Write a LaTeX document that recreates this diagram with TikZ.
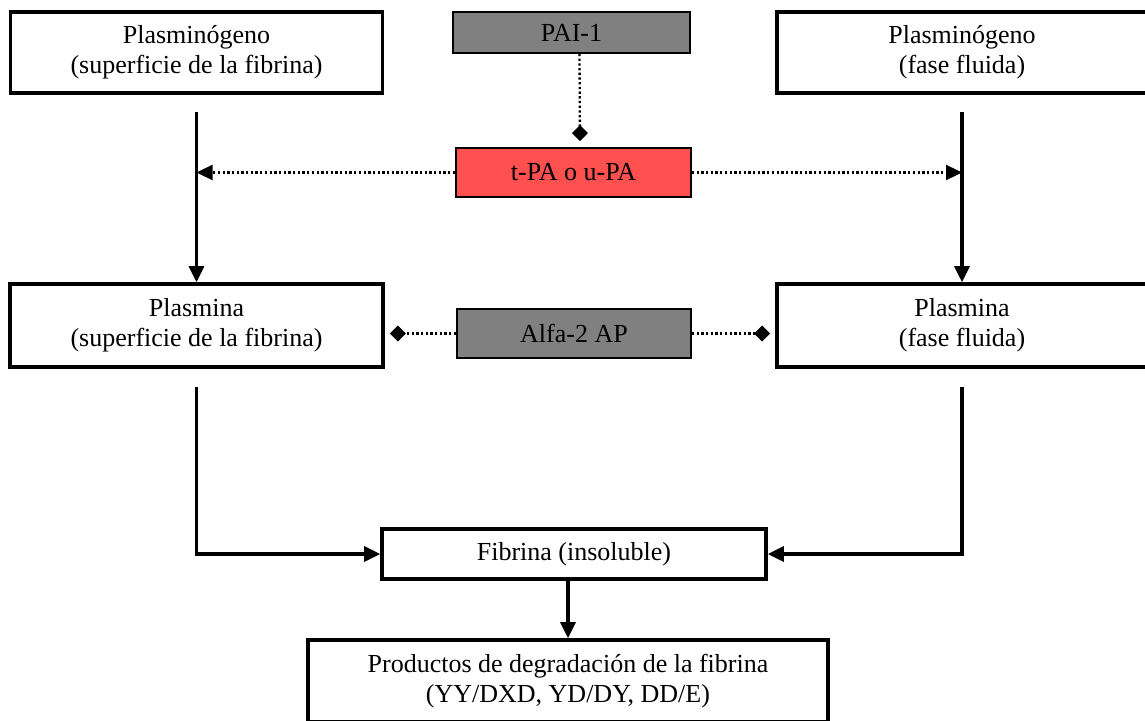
\documentclass[tikz,border=0pt]{standalone}
\usepackage{fontspec}
\setmainfont{Liberation Serif}
\usetikzlibrary{arrows.meta}
\definecolor{boxgray}{HTML}{808080}
\definecolor{boxred}{HTML}{FF5050}

\begin{document}
\begin{tikzpicture}[x=1pt, y=-1pt,
    font=\fontsize{26}{30}\selectfont,
    box/.style={draw, line width=3.6pt, align=center, inner sep=0pt},
    agent/.style={draw, line width=1.8pt, align=center, inner sep=0pt},
    flow/.style={line width=3.2pt, -{Triangle[length=16pt, width=15pt]}},
    act/.style={line width=2.3pt, dash pattern=on 2.3pt off 2.4pt, -{Triangle[length=16pt, width=15pt]}},
    inhib/.style={line width=2.3pt, dash pattern=on 2.3pt off 2.4pt, -{Diamond[length=16pt, width=16pt]}}]
    \useasboundingbox (0, 0) rectangle (1145, 720);
    \clip (0, 0) rectangle (1145, 720);

    % Top row
    \node[box, minimum width=372pt, minimum height=81pt] (plgS) at (196.5, 52.5) {Plasminógeno\\(superficie de la fibrina)};
    \node[agent, fill=boxgray, minimum width=237pt, minimum height=41pt] (pai) at (571.5, 32.5) {PAI-1};
    \node[box, minimum width=370pt, minimum height=81pt] (plgF) at (962, 52.5) {Plasminógeno\\(fase fluida)};

    % Activators
    \node[agent, fill=boxred, minimum width=235pt, minimum height=49pt] (tpa) at (573.5, 172.5) {t-PA o u-PA};

    % Middle row
    \node[box, minimum width=373pt, minimum height=83pt] (plaS) at (196.5, 325.5) {Plasmina\\(superficie de la fibrina)};
    \node[agent, fill=boxgray, minimum width=234pt, minimum height=49pt] (alfa) at (574, 333.5) {Alfa-2 AP};
    \node[box, minimum width=370pt, minimum height=83pt] (plaF) at (962, 325.5) {Plasmina\\(fase fluida)};

    % Bottom
    \node[box, minimum width=384pt, minimum height=50pt] (fib) at (574, 554) {Fibrina (insoluble)};
    \node[box, minimum width=520pt, minimum height=82pt] (prod) at (568, 681) {Productos de degradación de la fibrina\\(YY/DXD, YD/DY, DD/E)};

    % Plasminogen to plasmin
    \coordinate (sTop) at ([yshift=-17pt]plgS.south);
    \coordinate (fTop) at ([yshift=-17pt]plgF.south);
    \draw[flow] (sTop) -- (plaS.north);
    \draw[flow] (fTop) -- (plaF.north);

    % Activation and inhibition
    \draw[act] (tpa.west) -- (sTop |- tpa.west);
    \draw[act] (tpa.east) -- (fTop |- tpa.east);
    \draw[inhib, shorten >=6pt] ([xshift=8pt]pai.south) -- ([xshift=6.5pt]tpa.north);
    \draw[inhib, shorten >=5pt] (alfa.west) -- (plaS.east |- alfa.west);
    \draw[inhib, shorten >=5pt] (alfa.east) -- (plaF.west |- alfa.east);

    % Plasmin to fibrin degradation
    \draw[flow] ([yshift=-18pt]plaS.south) |- (fib.west);
    \draw[flow] ([yshift=-18pt]plaF.south) |- (fib.east);
    \draw[flow] (prod.north |- fib.south) -- (prod.north);
\end{tikzpicture}
\end{document}
